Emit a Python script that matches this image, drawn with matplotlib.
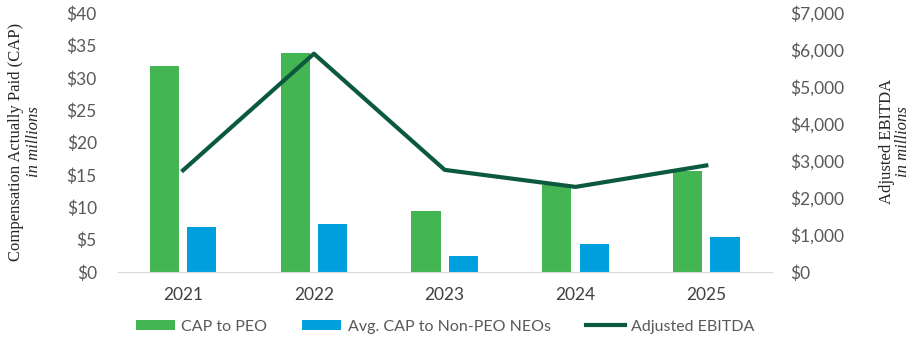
import matplotlib.pyplot as plt
import numpy as np

years = ["2021", "2022", "2023", "2024", "2025"]
cap_peo = [31.8, 33.9, 9.4, 13.4, 15.6]
cap_neo = [6.9, 7.4, 2.5, 4.3, 5.4]
ebitda = [2750, 5900, 2760, 2300, 2880]

green = "#43b553"
blue = "#00a0df"
dark = "#0b5a3d"
grey = "#595959"

plt.rcParams['font.family'] = ['Lato', 'DejaVu Sans']

fig = plt.figure(figsize=(9.14, 3.46), dpi=100)
ax = fig.add_axes([0.1288, 0.2139, 0.8443 - 0.1288, 0.9624 - 0.2139])
ax2 = ax.twinx()

x = np.arange(len(years))
w = 0.224
ax.bar(x - 0.143, cap_peo, w, color=green, label="CAP to PEO", zorder=2)
ax.bar(x + 0.143, cap_neo, w, color=blue, label="Avg. CAP to Non-PEO NEOs", zorder=2)
ax2.plot(x, ebitda, color=dark, lw=3, label="Adjusted EBITDA")

ax.set_xlim(-0.5, 4.5)
ax.set_ylim(0, 40)
ax2.set_ylim(0, 7000)
ax.set_yticks(range(0, 41, 5))
ax.set_yticklabels(["${}".format(v) for v in range(0, 41, 5)])
ax2.set_yticks(range(0, 7001, 1000))
ax2.set_yticklabels(["${:,}".format(v) for v in range(0, 7001, 1000)])
ax.set_xticks(x)
ax.set_xticklabels(years)

for a in (ax, ax2):
    for s in a.spines.values():
        s.set_visible(False)
    a.tick_params(length=0, colors=grey, labelsize=12.5)
ax.spines["bottom"].set_visible(True)
ax.spines["bottom"].set_color("#d9d9d9")
ax.tick_params(axis="x", pad=11, colors="#404040", labelsize=12.5)
ax.tick_params(axis="y", pad=15)
ax2.tick_params(axis="y", pad=13)

serif = ['Liberation Serif', 'DejaVu Serif']
fig.text(0.017, 0.59, "Compensation Actually Paid (CAP)", rotation=90, ha="center",
         va="center", family=serif, fontsize=12, color="#262626")
fig.text(0.037, 0.59, "in millions", rotation=90, ha="center", va="center",
         family=serif, style="italic", fontsize=12, color="#262626")
fig.text(0.970, 0.59, "Adjusted EBITDA", rotation=90, ha="center", va="center",
         family=serif, fontsize=12, color="#262626")
fig.text(0.988, 0.59, "in millions", rotation=90, ha="center", va="center",
         family=serif, style="italic", fontsize=12, color="#262626")

h1, l1 = ax.get_legend_handles_labels()
h2, l2 = ax2.get_legend_handles_labels()
leg = fig.legend(h1 + h2, l1 + l2, loc="center", bbox_to_anchor=(0.487, 0.056), ncol=3,
                 frameon=False, fontsize=11.5, handlelength=2.45, handleheight=0.55,
                 columnspacing=2.2, handletextpad=0.4)
for t in leg.get_texts():
    t.set_color(grey)

fig.savefig("out.png", dpi=100)
